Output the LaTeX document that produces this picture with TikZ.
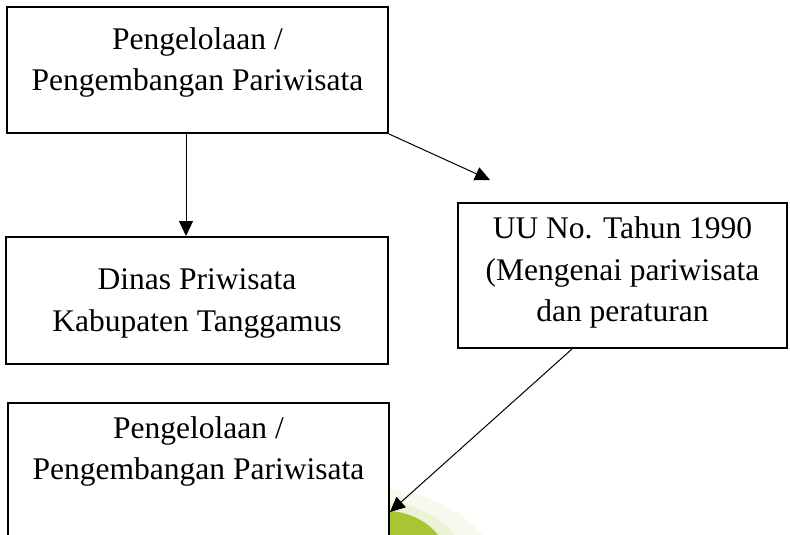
\documentclass[tikz,border=0pt]{standalone}
\usepackage{fontspec}
\setmainfont{Liberation Serif}
\usetikzlibrary{arrows.meta}
\definecolor{halo}{RGB}{247,249,238}
\definecolor{halob}{RGB}{236,242,214}
\definecolor{leaf}{RGB}{168,198,52}
\begin{document}
\begin{tikzpicture}[x=1pt,y=-1pt,
  box/.style={draw, line width=2pt, rectangle, inner sep=0pt},
  txt/.style={align=center, font=\fontsize{31.5}{41.5}\selectfont, inner sep=0pt},
  arr/.style={line width=1pt, -{Triangle[length=15pt,width=14pt]}}]
\clip (0,0) rectangle (790,535);
\fill[white] (0,0) rectangle (790,535);
% watermark
\fill[halo] (389,488) .. controls (430,494) and (466,514) .. (482,535) -- (389,535) -- cycle;
\fill[halob] (389,502) .. controls (418,505) and (442,518) .. (455,535) -- (389,535) -- cycle;
\fill[leaf] (389,511) .. controls (410,512) and (428,522) .. (438,535) -- (389,535) -- cycle;
% boxes
\node[box, minimum width=381pt, minimum height=126pt] (b1) at (197.5,70) {};
\node[box, minimum width=382pt, minimum height=127pt] (b2) at (197,300.5) {};
\node[box, minimum width=329pt, minimum height=145pt] (b3) at (622.5,275.5) {};
\node[box, minimum width=381pt, minimum height=140pt] (b4) at (198.5,473) {};
% texts
\node[txt] (t1) at ([yshift=7.5pt]b1.center) {Pengelolaan /\\Pengembangan Pariwisata};
\node[txt] (t2) at ([yshift=-3pt]b2.center) {Dinas Priwisata\\Kabupaten Tanggamus};
\node[txt] (t3) at ([yshift=3pt]b3.center) {UU No. Tahun 1990\\(Mengenai pariwisata\\dan peraturan};
\node[txt] (t4) at ([yshift=21.5pt]b4.center) {Pengelolaan /\\Pengembangan Pariwisata};
% connectors
\coordinate (e2) at (490,180);
\draw[arr] ([xshift=-11.5pt]b1.south) -- ([xshift=-11pt]b2.north);
\draw[arr] (b1.south east) -- (e2);
\draw[arr] ([xshift=-50.5pt]b3.south) -- ([yshift=-39pt]b4.east);
\end{tikzpicture}
\end{document}
